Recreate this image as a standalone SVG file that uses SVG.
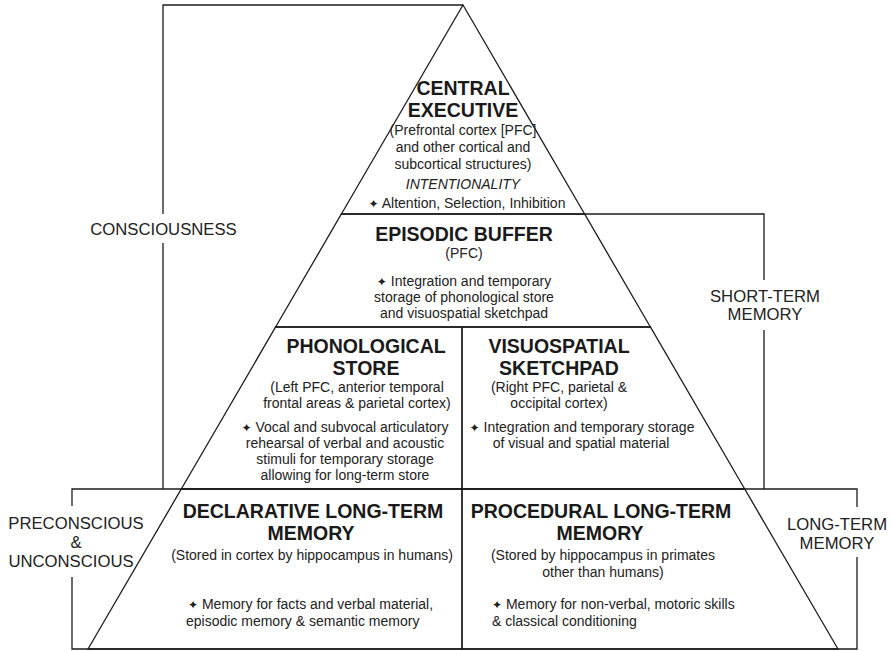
<svg xmlns="http://www.w3.org/2000/svg" width="892" height="651" viewBox="0 0 892 651">
<style>
  .shape { fill: none; stroke: #1c1c1c; stroke-width: 1.3; stroke-linejoin: miter; }
  .line { fill: none; stroke: #1c1c1c; stroke-width: 1.3; }
  text { font-family: "Liberation Sans", Arial, Helvetica, sans-serif; fill: #1a1a1a; }
  .h { font-size: 19.5px; font-weight: bold; text-anchor: middle; }
  .b { font-size: 14px; fill: #222; text-anchor: middle; }
  .bs { font-size: 14px; fill: #222; text-anchor: start; }
  .it { font-style: italic; }
  .lab { font-size: 16.7px; fill: #222; text-anchor: middle; }
  .star { font-family: "DejaVu Sans", sans-serif; font-size: 12px; }
</style>
<rect x="0" y="0" width="892" height="651" fill="#ffffff"/>

<g id="connectors">
  <!-- consciousness bracket -->
  <path class="line" d="M463 5 H163 V214 M163 243 V489"/>
  <!-- short-term memory bracket -->
  <path class="line" d="M584.6 214 H764 V280 M764 330 V489"/>
  <!-- long-term memory box -->
  <path class="line" d="M72 506 V489 H857 V507 M857 557 V649 H72 V577"/>
</g>

<g id="central-executive">
  <polygon class="shape" points="463,5 584.6,214 341.4,214"/>
  <text class="h" x="463" y="95">CENTRAL</text>
  <text class="h" x="463" y="117">EXECUTIVE</text>
  <text class="b" x="463" y="135">(Prefrontal cortex [PFC]</text>
  <text class="b" x="463" y="152">and other cortical and</text>
  <text class="b" x="463" y="169">subcortical structures)</text>
  <text class="b it" x="463" y="189">INTENTIONALITY</text>
  <text class="b" x="467" y="208"><tspan class="star">✦</tspan> Altention, Selection, Inhibition</text>
</g>

<g id="episodic-buffer">
  <polygon class="shape" points="341.4,214 584.6,214 650.4,327 275.6,327"/>
  <text class="h" x="464" y="241">EPISODIC BUFFER</text>
  <text class="b" x="464" y="258">(PFC)</text>
  <text class="b" x="464" y="286"><tspan class="star">✦</tspan> Integration and temporary</text>
  <text class="b" x="464" y="302">storage of phonological store</text>
  <text class="b" x="464" y="318">and visuospatial sketchpad</text>
</g>

<g id="phonological-store">
  <polygon class="shape" points="275.6,327 462,327 462,489 181.3,489"/>
  <text class="h" x="366" y="353">PHONOLOGICAL</text>
  <text class="h" x="366" y="375">STORE</text>
  <text class="b" x="357" y="392">(Left PFC, anterior temporal</text>
  <text class="b" x="357" y="408">frontal areas &amp; parietal cortex)</text>
  <text class="b" x="345" y="432"><tspan class="star">✦</tspan> Vocal and subvocal articulatory</text>
  <text class="b" x="345" y="448">rehearsal of verbal and acoustic</text>
  <text class="b" x="345" y="464">stimuli for temporary storage</text>
  <text class="b" x="345" y="480">allowing for long-term store</text>
</g>

<g id="visuospatial-sketchpad">
  <polygon class="shape" points="462,327 650.4,327 744.7,489 462,489"/>
  <text class="h" x="559" y="353">VISUOSPATIAL</text>
  <text class="h" x="559" y="375">SKETCHPAD</text>
  <text class="b" x="559" y="392">(Right PFC, parietal &amp;</text>
  <text class="b" x="559" y="408">occipital cortex)</text>
  <text class="b" x="582" y="432"><tspan class="star">✦</tspan> Integration and temporary storage</text>
  <text class="b" x="581" y="448">of visual and spatial material</text>
</g>

<g id="declarative-long-term-memory">
  <polygon class="shape" points="181.3,489 462,489 462,649 88,649"/>
  <text class="h" x="313" y="518">DECLARATIVE LONG-TERM</text>
  <text class="h" x="311" y="540">MEMORY</text>
  <text class="b" x="312" y="560">(Stored in cortex by hippocampus in humans)</text>
  <text class="bs" x="188" y="609"><tspan class="star">✦</tspan> Memory for facts and verbal material,</text>
  <text class="bs" x="186" y="626">episodic memory &amp; semantic memory</text>
</g>

<g id="procedural-long-term-memory">
  <polygon class="shape" points="462,489 744.7,489 838,649 462,649"/>
  <text class="h" x="601" y="518">PROCEDURAL LONG-TERM</text>
  <text class="h" x="600" y="540">MEMORY</text>
  <text class="b" x="603" y="560">(Stored by hippocampus in primates</text>
  <text class="b" x="603" y="577">other than humans)</text>
  <text class="bs" x="492" y="609"><tspan class="star">✦</tspan> Memory for non-verbal, motoric skills</text>
  <text class="bs" x="492" y="626">&amp; classical conditioning</text>
</g>

<g id="label-consciousness">
  <text class="lab" x="163.5" y="235">CONSCIOUSNESS</text>
</g>

<g id="label-short-term-memory">
  <text class="lab" x="765" y="302">SHORT-TERM</text>
  <text class="lab" x="765" y="320">MEMORY</text>
</g>

<g id="label-long-term-memory">
  <text class="lab" x="837" y="530">LONG-TERM</text>
  <text class="lab" x="837" y="549">MEMORY</text>
</g>

<g id="label-preconscious-unconscious">
  <text class="lab" x="76" y="529">PRECONSCIOUS</text>
  <text class="lab" x="76" y="548">&amp;</text>
  <text class="lab" x="71" y="567">UNCONSCIOUS</text>
</g>
</svg>
